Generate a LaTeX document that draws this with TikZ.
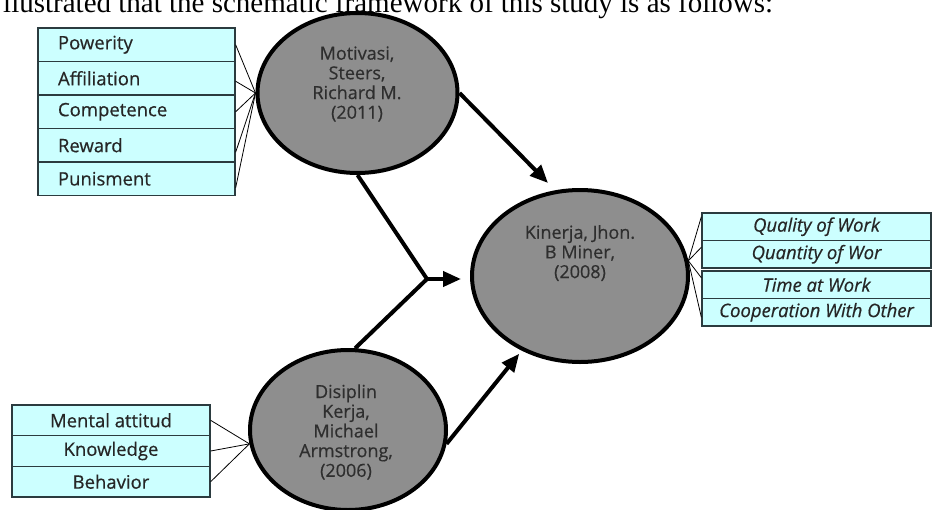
\documentclass[tikz,border=0pt]{standalone}
\usepackage{fontspec}
\setmainfont{Liberation Serif}
\newfontfamily\osans[FakeBold=0.5]{Open Sans}
\usetikzlibrary{shapes.geometric,arrows.meta,calc}
\definecolor{boxcyan}{HTML}{CCFFFF}
\definecolor{boxline}{HTML}{2B3B3F}
\definecolor{topicgray}{HTML}{8E8E8E}
\definecolor{inkgray}{HTML}{2E2E2E}

\begin{document}
\begin{tikzpicture}[x=1pt,y=-1pt,
  topic/.style={ellipse,draw=black,line width=4pt,fill=topicgray,inner sep=0pt},
  topictext/.style={align=center,text=inkgray,font=\osans\fontsize{18}{19.7}\selectfont},
  item/.style={rectangle,draw=boxline,line width=1.3pt,fill=boxcyan,inner sep=0pt,
    text=black!85,font=\osans\fontsize{18.5}{20}\selectfont},
  link/.style={line width=0.8pt},
  arr/.style={line width=4pt,-{Triangle[length=18pt,width=15pt]}}
]
\useasboundingbox (0,0) rectangle (932,509);

% line of text above the figure
\node[anchor=base west,inner sep=0pt,font=\fontsize{29}{30}\selectfont] (intro) at (3,12)
  {llustrated that the schematic framework of this study is as follows:};

% the three topics
\node[topic,minimum width=200pt,minimum height=160pt] (mot) at (357.5,93) {};
\node[topictext] (motT) at (357,84) {Motivasi,\\Steers,\\Richard M.\\(2011)};
\node[topic,minimum width=216pt,minimum height=172pt] (kin) at (580,276) {};
\node[topictext] (kinT) at (580,253) {Kinerja, Jhon.\\B Miner,\\(2008)};
\node[topic,minimum width=196pt,minimum height=160pt] (dis) at (348,430) {};
\node[topictext] (disT) at (346,432) {Disiplin\\Kerja,\\Michael\\Armstrong,\\(2006)};

% indicators of motivasi
\node[item,minimum width=197pt,minimum height=33.5pt,text width=157pt,align=left] (pw) at (136.5,44.75) {Powerity};
\node[item,minimum width=197pt,minimum height=33.5pt,text width=157pt,align=left] (af) at (136.5,78.25) {Affiliation};
\node[item,minimum width=197pt,minimum height=33.5pt,text width=157pt,align=left] (cp) at (136.5,111.75) {Competence};
\node[item,minimum width=197pt,minimum height=33.5pt,text width=157pt,align=left] (rw) at (136.5,145.25) {Reward};
\node[item,minimum width=197pt,minimum height=33.5pt,text width=157pt,align=left] (pn) at (136.5,178.75) {Punisment};

% indicators of kinerja
\node[item,minimum width=229pt,minimum height=27.5pt,font=\osans\itshape\fontsize{18.5}{20}\selectfont] (qw) at (816.5,226.75) {Quality of Work};
\node[item,minimum width=229pt,minimum height=27.5pt,font=\osans\itshape\fontsize{18.5}{20}\selectfont] (qt) at (816.5,254.25) {Quantity of Wor};
\node[item,minimum width=229pt,minimum height=27.5pt,font=\osans\itshape\fontsize{18.5}{20}\selectfont] (tw) at (816.5,284.75) {Time at Work};
\node[item,minimum width=229pt,minimum height=27.5pt,font=\osans\itshape\fontsize{18.5}{20}\selectfont] (co) at (816.5,312.25) {Cooperation With Other};

% indicators of disiplin
\node[item,minimum width=198pt,minimum height=30.7pt] (mn) at (111,420.3) {Mental attitud};
\node[item,minimum width=198pt,minimum height=30.7pt] (kn) at (111,451) {Knowledge};
\node[item,minimum width=198pt,minimum height=30.7pt] (bh) at (111,481.7) {Behavior};

% thin links
\draw[link] (pw.east) -- (mot.west);
\draw[link] ([yshift=-3pt]af.east) -- (mot.west);
\draw[link] (cp.east) -- (mot.west);
\draw[link] ([yshift=-7pt]rw.east) -- (mot.west);
\draw[link] ([yshift=-9pt]pn.east) -- (mot.west);
\draw[link] (kin.8) -- ([yshift=10pt]qw.west);
\draw[link] (kin.8) -- ([yshift=7pt]qt.west);
\draw[link] (kin.8) -- ([yshift=7pt]tw.west);
\draw[link] (kin.8) -- ([yshift=-5pt]co.west);
\draw[link] (mn.east) -- (dis.188);
\draw[link] (kn.east) -- (dis.188);
\draw[link] (bh.east) -- (dis.188);

% arrows
\coordinate (jn) at (427,279);
\coordinate (kinTip) at (548,183);
\draw[arr] (mot.east) -- (kinTip);
\draw[line width=4pt] (mot.south) -- (jn) -- (dis.85);
\draw[arr,shorten >=9pt] (jn) -- (jn -| kin.west);
\draw[arr,shorten >=4pt] (dis.-8) -- (kin.232);
\end{tikzpicture}
\end{document}
